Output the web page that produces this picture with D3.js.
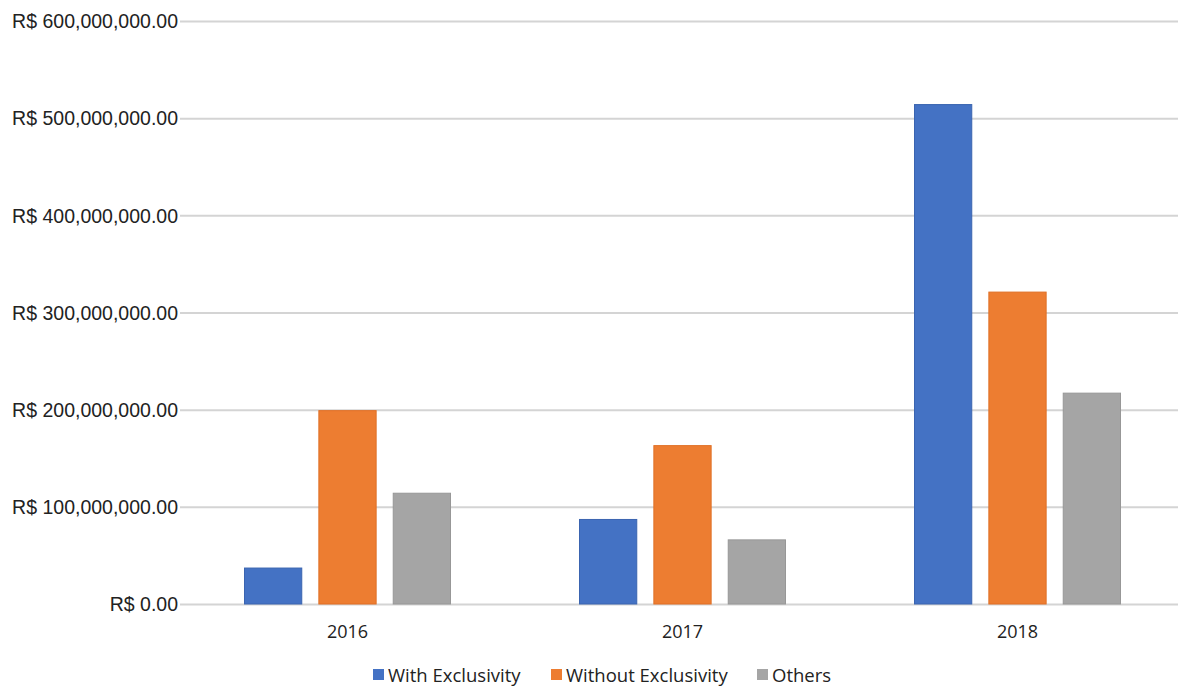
<!DOCTYPE html>
<html><head><meta charset="utf-8">
<script src="https://cdn.jsdelivr.net/npm/d3@7"></script>
<style>body{margin:0;background:#fff}svg{display:block}</style>
</head><body>
<svg id="c" width="1178" height="686"></svg>
<script>
const categories = ["2016", "2017", "2018"];
const seriesNames = ["With Exclusivity", "Without Exclusivity", "Others"];
const withExclusivity = [37000000, 87000000, 514000000];
const withoutExclusivity = [199000000, 163000000, 321000000];
const others = [114000000, 66000000, 217000000];
const yTicks = [0, 100000000, 200000000, 300000000, 400000000, 500000000, 600000000];
const colors = ["#4472c4", "#ed7d31", "#a5a5a5"];
const strokes = ["#3a64b0", "#e06f25", "#979797"];

const series = [withExclusivity, withoutExclusivity, others];
const svg = d3.select("#c");
const mLeft = 180, mRight = 1185, mTop = 21, mBottom = 604;

const x = d3.scaleBand().domain(categories).range([mLeft, mRight]).paddingInner(0).paddingOuter(0);
const y = d3.scaleLinear().domain([0, 600000000]).range([mBottom, mTop]);
const inner = d3.scaleBand().domain(seriesNames).range([x.bandwidth()/2 - 103, x.bandwidth()/2 + 103]).paddingInner(0.23).paddingOuter(0);

const fmt = v => "R$ " + d3.format(",.2f")(v);

// grid
const yAxis = d3.axisLeft(y).tickValues(yTicks).tickSize(-(1178 - mLeft)).tickFormat(fmt).tickPadding(2);
const ga = svg.append("g").attr("transform", `translate(${mLeft},0)`).call(yAxis);
ga.select(".domain").remove();
ga.selectAll(".tick line").attr("stroke", "#d4d4d4").attr("stroke-width", 2);
ga.selectAll(".tick text").attr("font-family", "Liberation Sans, Arial, sans-serif").attr("font-size", 19.5).attr("fill", "#222").attr("dy", "0.35em");

// bars
const groups = svg.append("g").selectAll("g").data(categories).join("g")
  .attr("transform", d => `translate(${x(d)},0)`);
series.forEach((s, si) => {
  groups.append("rect")
    .attr("x", inner(seriesNames[si]))
    .attr("width", inner.bandwidth())
    .attr("y", (d, i) => y(s[i]))
    .attr("height", (d, i) => y(0) - y(s[i]))
    .attr("fill", colors[si])
    .attr("stroke", strokes[si]).attr("stroke-width", 1);
});

// x axis labels
const xAxis = d3.axisBottom(x).tickSize(0).tickPadding(21);
const gx = svg.append("g").attr("transform", `translate(0,${mBottom})`).call(xAxis);
gx.select(".domain").remove();
gx.selectAll(".tick text").attr("font-family", "Open Sans, Liberation Sans, sans-serif").attr("font-size", 18).attr("fill", "#222");

// legend
const legendX = [373, 551, 757];
const lg = svg.append("g");
seriesNames.forEach((n, i) => {
  lg.append("rect").attr("x", legendX[i]).attr("y", 669).attr("width", 11).attr("height", 11).attr("fill", colors[i]);
  lg.append("text").attr("x", legendX[i] + 15).attr("y", 681.5).text(n)
    .attr("font-family", "Open Sans, Liberation Sans, sans-serif").attr("font-size", 18.5).attr("fill", "#222");
});
</script>
</body></html>
